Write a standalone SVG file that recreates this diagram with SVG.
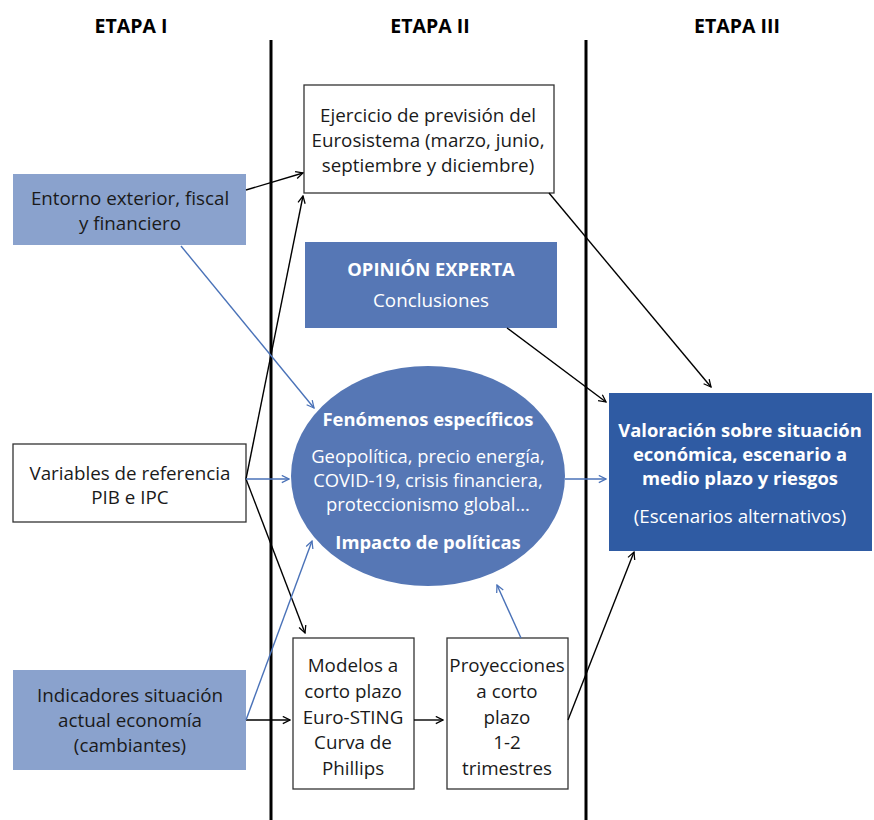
<svg xmlns="http://www.w3.org/2000/svg" width="874" height="820" viewBox="0 0 874 820">
<defs>
<style>
text{font-family:"Open Sans","Liberation Sans",sans-serif;text-anchor:middle}
.h{font-size:19.5px;font-weight:bold;fill:#000}
.t{font-size:18.8px;fill:#1a1a1a}
.w{font-size:18.8px;fill:#fff}
.e{font-size:18.4px;fill:#fff}
.wb{font-size:18.4px;fill:#fff;font-weight:bold}
.box{fill:#fff;stroke:#333;stroke-width:1.3}
.lb{fill:#8aa2cd}
.k{stroke:#000;stroke-width:1.4;fill:none}
.b{stroke:#4a72b8;stroke-width:1.4;fill:none}
</style>
<marker id="ak" viewBox="0 0 10 10" refX="9" refY="5" markerWidth="9" markerHeight="9" markerUnits="userSpaceOnUse" orient="auto"><path d="M1,1 L9,5 L1,9" fill="none" stroke="#000" stroke-width="1.4"/></marker>
<marker id="ab" viewBox="0 0 10 10" refX="9" refY="5" markerWidth="9" markerHeight="9" markerUnits="userSpaceOnUse" orient="auto"><path d="M1,1 L9,5 L1,9" fill="none" stroke="#4a72b8" stroke-width="1.4"/></marker>
</defs>
<rect width="874" height="820" fill="#fff"/>
<g id="headers">
<text class="h" x="131" y="33">ETAPA I</text>
<text class="h" x="430" y="33">ETAPA II</text>
<text class="h" x="737" y="33">ETAPA III</text>
<line x1="271" y1="40" x2="271" y2="820" stroke="#000" stroke-width="3"/>
<line x1="586" y1="40" x2="586" y2="820" stroke="#000" stroke-width="3"/>
</g>
<g id="ejercicio">
<rect class="box" x="304" y="85" width="250" height="108"/>
<text class="t" x="428" y="122">Ejercicio de previsión del</text>
<text class="t" x="428" y="147">Eurosistema (marzo, junio,</text>
<text class="t" x="428" y="172">septiembre y diciembre)</text>
</g>
<g id="entorno">
<rect class="lb" x="13" y="174" width="233" height="71"/>
<text class="t" x="130" y="205">Entorno exterior, fiscal</text>
<text class="t" x="130" y="230">y financiero</text>
</g>
<g id="opinion">
<rect fill="#5677b5" x="305" y="242" width="252" height="86"/>
<text class="wb" x="431" y="276">OPINIÓN EXPERTA</text>
<text class="w" x="431" y="307">Conclusiones</text>
</g>
<g id="fenomenos">
<ellipse cx="428" cy="476" rx="137" ry="110" fill="#5677b5"/>
<text class="wb" x="428" y="426">Fenómenos específicos</text>
<text class="e" x="428" y="463">Geopolítica, precio energía,</text>
<text class="e" x="428" y="487">COVID-19, crisis financiera,</text>
<text class="e" x="428" y="511">proteccionismo global...</text>
<text class="wb" x="428" y="549">Impacto de políticas</text>
</g>
<g id="variables">
<rect class="box" x="13" y="444" width="233" height="78"/>
<text class="t" x="130" y="480">Variables de referencia</text>
<text class="t" x="130" y="504">PIB e IPC</text>
</g>
<g id="indicadores">
<rect class="lb" x="13" y="670" width="233" height="100"/>
<text class="t" x="130" y="702">Indicadores situación</text>
<text class="t" x="130" y="727">actual economía</text>
<text class="t" x="130" y="752">(cambiantes)</text>
</g>
<g id="modelos">
<rect class="box" x="293" y="638" width="121" height="151"/>
<text class="t" x="353" y="672">Modelos a</text>
<text class="t" x="353" y="698">corto plazo</text>
<text class="t" x="353" y="724">Euro-STING</text>
<text class="t" x="353" y="749">Curva de</text>
<text class="t" x="353" y="775">Phillips</text>
</g>
<g id="proyecciones">
<rect class="box" x="447" y="638" width="121" height="151"/>
<text class="t" x="507" y="672">Proyecciones</text>
<text class="t" x="507" y="698">a corto</text>
<text class="t" x="507" y="724">plazo</text>
<text class="t" x="507" y="749">1-2</text>
<text class="t" x="507" y="775">trimestres</text>
</g>
<g id="valoracion">
<rect fill="#2f5ba3" x="609" y="393" width="263" height="158"/>
<text class="wb" x="740" y="437">Valoración sobre situación</text>
<text class="wb" x="740" y="461">económica, escenario a</text>
<text class="wb" x="740" y="485">medio plazo y riesgos</text>
<text class="w" x="740" y="523">(Escenarios alternativos)</text>
</g>
<g id="connectors">
<line class="k" x1="246" y1="190" x2="303" y2="173" marker-end="url(#ak)"/>
<line class="k" x1="246" y1="479" x2="303" y2="196" marker-end="url(#ak)"/>
<line class="k" x1="246" y1="479" x2="305" y2="633" marker-end="url(#ak)"/>
<line class="b" x1="246" y1="479" x2="289" y2="479" marker-end="url(#ab)"/>
<line class="b" x1="181" y1="246" x2="314" y2="408" marker-end="url(#ab)"/>
<line class="k" x1="246" y1="720" x2="290" y2="720" marker-end="url(#ak)"/>
<line class="b" x1="246" y1="720" x2="312" y2="541" marker-end="url(#ab)"/>
<line class="k" x1="414" y1="720" x2="443" y2="720" marker-end="url(#ak)"/>
<line class="b" x1="521" y1="638" x2="497" y2="585" marker-end="url(#ab)"/>
<line class="k" x1="568" y1="720" x2="634" y2="552" marker-end="url(#ak)"/>
<line class="k" x1="549" y1="193" x2="711" y2="387" marker-end="url(#ak)"/>
<line class="k" x1="507" y1="328" x2="606" y2="402" marker-end="url(#ak)"/>
<line class="b" x1="565" y1="479" x2="606" y2="479" marker-end="url(#ab)"/>
</g>
</svg>
